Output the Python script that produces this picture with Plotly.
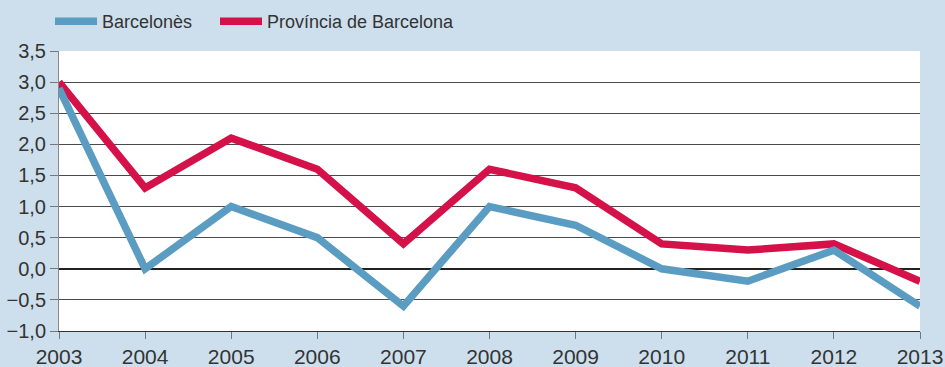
import plotly.graph_objects as go

years = [2003, 2004, 2005, 2006, 2007, 2008, 2009, 2010, 2011, 2012, 2013]
barcelones = [2.9, 0.0, 1.0, 0.5, -0.6, 1.0, 0.7, 0.0, -0.2, 0.3, -0.6]
provincia = [3.0, 1.3, 2.1, 1.6, 0.4, 1.6, 1.3, 0.4, 0.3, 0.4, -0.2]
y_ticks = [-1.0, -0.5, 0.0, 0.5, 1.0, 1.5, 2.0, 2.5, 3.0, 3.5]

BLUE = "#5b9dc2"
RED = "#d41149"
BG = "#cddfec"
TEXT = "#333333"

fig = go.Figure()
fig.add_trace(go.Scatter(
    x=years, y=provincia, mode="lines", name="Província de Barcelona",
    line=dict(color=RED, width=7.5), legend="legend2",
))
fig.add_trace(go.Scatter(
    x=years, y=barcelones, mode="lines", name="Barcelonès",
    line=dict(color=BLUE, width=7.5), legend="legend",
))

legend_style = dict(
    orientation="h", y=0.992, xref="container", yref="container",
    xanchor="left", yanchor="top",
    font=dict(size=18, color=TEXT), itemwidth=42,
    bgcolor="rgba(0,0,0,0)",
)

fig.update_layout(
    width=945, height=367,
    margin=dict(l=59, r=25, t=51, b=36, autoexpand=False),
    paper_bgcolor=BG,
    plot_bgcolor="white",
    separators=",.",
    font=dict(family="Liberation Sans, Arial, sans-serif", size=20, color=TEXT),
    showlegend=True,
    legend=dict(x=50 / 945, **legend_style),
    legend2=dict(x=215 / 945, **legend_style),
    xaxis=dict(
        range=[2003, 2013], tickvals=years, ticktext=[str(y) for y in years],
        showgrid=False, zeroline=False, automargin=False,
        showline=True, linecolor="#333333", linewidth=1,
        ticks="outside", ticklen=7, tickcolor="#777777",
        tickfont=dict(size=21, color=TEXT),
    ),
    yaxis=dict(
        range=[-1.0, 3.5], tickvals=y_ticks, tickformat=".1f", automargin=False,
        showgrid=True, gridcolor="#4a4a4a", gridwidth=1,
        zeroline=True, zerolinecolor="#222222", zerolinewidth=1.5,
        showline=True, linecolor="#888888", linewidth=1,
        ticks="outside", ticklen=8, tickcolor="#777777",
        tickfont=dict(size=20, color=TEXT),
    ),
)

fig.write_html("out.html")
